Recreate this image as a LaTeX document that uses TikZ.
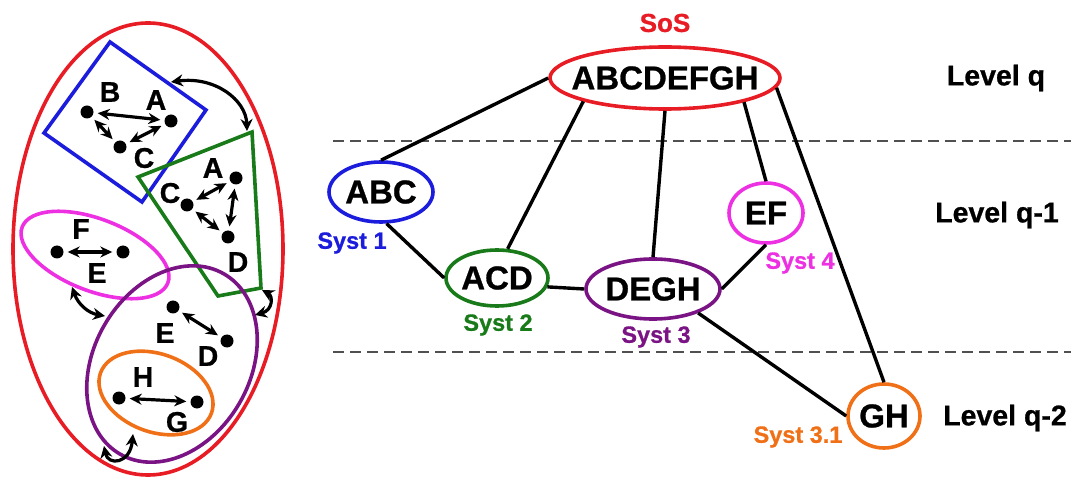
\documentclass[tikz,border=0pt]{standalone}
\usepackage{fontspec}
\setmainfont{Liberation Sans}[BoldFeatures={FakeBold=0.8}]
\usetikzlibrary{arrows.meta,shapes.geometric}

\definecolor{sosred}{RGB}{232,28,36}
\definecolor{sysblue}{RGB}{28,28,220}
\definecolor{sysgreen}{RGB}{24,122,24}
\definecolor{sysmagenta}{RGB}{236,48,226}
\definecolor{syspurple}{RGB}{122,20,132}
\definecolor{sysorange}{RGB}{240,112,24}
\definecolor{levelgray}{RGB}{80,80,80}

\newcommand\ctxt[1]{\makebox[0pt]{#1}}

\tikzset{
  outline/.style={line width=3.6pt},
  elem/.style={circle,fill=black,inner sep=0pt,minimum size=13pt},
  letter/.style={font=\bfseries\fontsize{28.5}{28.5}\selectfont,inner sep=0pt},
  link/.style={{Stealth[length=12pt,width=11pt]}-{Stealth[length=12pt,width=11pt]},
               line width=3.2pt,shorten <=4pt,shorten >=4pt},
  curvedlink/.style={{Stealth[length=12pt,width=12pt]}-{Stealth[length=12pt,width=12pt]},
               line width=3.2pt},
  sysnode/.style={ellipse,draw,line width=3.6pt,inner sep=0pt,
                  font=\bfseries\fontsize{33}{33}\selectfont},
  syslabel/.style={font=\bfseries\fontsize{23.5}{23.5}\selectfont,inner sep=0pt},
  levellabel/.style={font=\bfseries\fontsize{28.5}{28.5}\selectfont,inner sep=0pt},
  tie/.style={line width=3.4pt},
  levelline/.style={line width=2pt,levelgray,dash pattern=on 11pt off 6pt}
}

\begin{document}
\begin{tikzpicture}[x=1pt,y=-1pt]
\useasboundingbox (0,0) rectangle (1071,478);

% ---------- left: nested systems ----------
\draw[outline,sosred] (148,249) ellipse [x radius=135pt, y radius=226pt];
\draw[outline,sysblue] (110,42) -- (206,110) -- (142,202) -- (44,133) -- cycle;
\draw[outline,sysgreen] (138,177) -- (252,132) -- (261,288) -- (218,296) -- cycle;
\draw[outline,sysmagenta,rotate around={-21:(95,255)}] (95,255) ellipse [x radius=78pt, y radius=36pt];
\draw[outline,syspurple,rotate around={60:(172,364)}] (172,364) ellipse [x radius=104pt, y radius=78pt];
\draw[outline,sysorange,rotate around={-20:(156,393)}] (156,393) ellipse [x radius=59pt, y radius=39pt];

% system 1 elements
\node[elem] (b1) at (87,112) {};
\node[elem] (a1) at (171,121) {};
\node[elem] (c1) at (120,147) {};
\node[letter] at (110,92) {B};
\node[letter] at (156,100) {A};
\node[letter] at (144,158) {C};
\draw[link] (b1) -- (a1);
\draw[link] (a1) -- (c1);
\draw[link] (b1) -- (c1);

% system 2 elements
\node[elem] (c2) at (187,205) {};
\node[elem] (a2) at (236,178) {};
\node[elem] (d2) at (228,237) {};
\node[letter] at (213,168) {A};
\node[letter] at (170,193) {C};
\node[letter] at (238,262) {D};
\draw[link] (c2) -- (a2);
\draw[link] (a2) -- (d2);
\draw[link] (c2) -- (d2);

% system 4 elements
\node[elem] (f4) at (57,252) {};
\node[elem] (e4) at (123,252) {};
\node[letter] at (81,229) {F};
\node[letter] at (97,273) {E};
\draw[link] (f4) -- (e4);

% system 3 elements
\node[elem] (e3) at (173,307) {};
\node[elem] (d3) at (227,341) {};
\node[letter] at (165,333) {E};
\node[letter] at (208,356) {D};
\draw[link] (e3) -- (d3);

% system 3.1 elements
\node[elem] (h5) at (119,398) {};
\node[elem] (g5) at (197,402) {};
\node[letter] at (143,377) {H};
\node[letter] at (177,422) {G};
\draw[link] (h5) -- (g5);

% interactions between systems
\coordinate (s1edge) at (171,82);
\coordinate (s2top) at (247,131);
\coordinate (s2foot) at (262,290);
\coordinate (s3right) at (255,315);
\coordinate (s4foot) at (72,287);
\coordinate (s3left) at (105,316);
\coordinate (s5foot) at (133,434);
\coordinate (s3foot) at (104,446);
\draw[curvedlink] (s1edge) .. controls (215,76) and (246,100) .. (s2top);
\draw[curvedlink] (s2foot) .. controls (273,296) and (273,310) .. (s3right);
\draw[curvedlink] (s4foot) .. controls (78,304) and (88,313) .. (s3left);
\draw[curvedlink] (s5foot) .. controls (130,464) and (108,466) .. (s3foot);

% ---------- right: level hierarchy ----------
\draw[levelline] (333,141) -- (1071,141);
\draw[levelline] (333,352) -- (1071,352);

\node[sysnode,sosred,minimum width=230pt,minimum height=62pt] (sos) at (665,78) {\ctxt{\color{black}ABCDEFGH}};
\node[sysnode,sysblue,minimum width=104pt,minimum height=60pt] (abc) at (381,192) {\ctxt{\color{black}ABC}};
\node[sysnode,sysgreen,minimum width=102pt,minimum height=56pt] (acd) at (497,278) {\ctxt{\color{black}ACD}};
\node[sysnode,syspurple,minimum width=134pt,minimum height=60pt] (degh) at (653,289) {\ctxt{\color{black}DEGH}};
\node[sysnode,sysmagenta,minimum width=74pt,minimum height=60pt] (ef) at (766,213) {\ctxt{\color{black}EF}};
\node[sysnode,sysorange,minimum width=72pt,minimum height=64pt] (gh) at (884,416) {\ctxt{\color{black}GH}};

\node[syslabel,sosred] (sosl) at (665,23) {\fontsize{26}{26}\selectfont SoS};
\node[syslabel,sysblue] (s1l) at (352,243) {Syst 1};
\node[syslabel,sysgreen] (s2l) at (498,325) {Syst 2};
\node[syslabel,syspurple] (s3l) at (656,337) {Syst 3};
\node[syslabel,sysmagenta] (s4l) at (800,263) {Syst 4};
\node[syslabel,sysorange] (s5l) at (798,437) {Syst 3.1};

\node[levellabel] (lq) at (996,78) {Level q};
\node[levellabel] (lq1) at (997,215) {Level q-1};
\node[levellabel] (lq2) at (1005,418) {Level q-2};

\draw[tie] (sos.west) -- (abc.north);
\draw[tie] (sos.196) -- (acd.70);
\draw[tie] (sos.south) -- (degh.north);
\draw[tie] (sos.-17) -- (ef.north);
\draw[tie] (sos.-5) -- (gh.north);
\draw[tie] (abc.-80) -- (acd.west);
\draw[tie] (acd.-10) -- (degh.west);
\draw[tie] (degh.east) -- (ef.south);
\draw[tie] (degh.-28) -- (gh.west);
\end{tikzpicture}
\end{document}
